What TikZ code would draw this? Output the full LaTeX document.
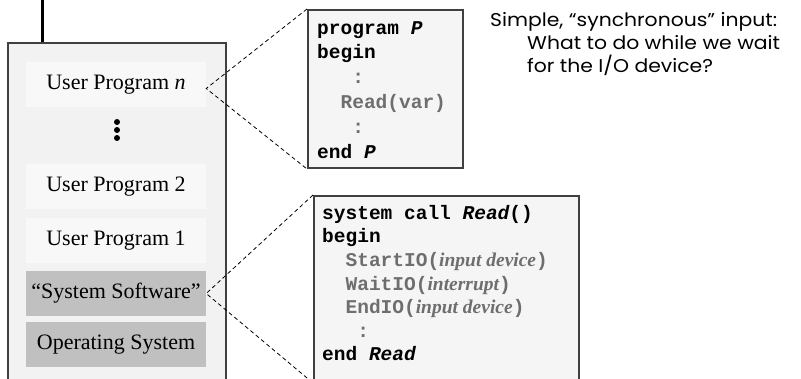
\documentclass[tikz,border=0pt]{standalone}
\usepackage{fontspec}
\setmainfont{Liberation Serif}
\setmonofont{Liberation Mono}
\newfontfamily\notefont[FakeStretch=1.1]{Poppins}

\definecolor{panelgray}{HTML}{F2F2F2}
\definecolor{layerlight}{HTML}{F8F8F8}
\definecolor{layergray}{HTML}{C0C0C0}
\definecolor{framegray}{HTML}{404040}
\definecolor{codefill}{HTML}{F5F5F5}
\definecolor{codegray}{HTML}{6E6E6E}

\newcommand{\callop}[1]{\textcolor{codegray}{#1}}
\newcommand{\callarg}[1]{{\rmfamily\bfseries\itshape #1}}

\begin{document}
\begin{tikzpicture}[
  x=1pt, y=-1pt,
  panel/.style={rectangle, draw=framegray, line width=1.5pt, fill=panelgray, minimum width=218pt, minimum height=342pt, inner sep=0pt},
  layer/.style={rectangle, fill=layerlight, minimum width=180pt, minimum height=45pt, inner sep=0pt, font=\fontsize{22}{26}\selectfont},
  syslayer/.style={layer, fill=layergray},
  codebox/.style={rectangle, draw=framegray, line width=2pt, fill=codefill, inner sep=0pt, anchor=north west},
  code/.style={anchor=north west, align=left, inner sep=0pt, font=\fontsize{19.5}{24.8}\selectfont\ttfamily\bfseries},
  zoomline/.style={dashed, line width=0.8pt, dash pattern=on 4pt off 3pt}
]
\useasboundingbox (0,0) rectangle (801,379);
\clip (0,0) rectangle (801,379);

% Machine stack
\node[panel] (machine) at (117,214) {};
\coordinate (wire) at (42,0);
\draw[line width=3pt] (wire) -- (wire |- machine.north);

\node[layer] (upn) at (116,84.5) {User Program \textit{n}};
\foreach \y in {122,130,138}
  \fill (117,\y) circle (3pt);
\node[layer] (up2) at (116,187) {User Program 2};
\node[layer] (up1) at (116,241) {User Program 1};
\node[syslayer] (sys) at (116,293.5) {``System Software''};
\node[syslayer] (os) at (116,345) {Operating System};

% Program P
\node[codebox, minimum width=155pt, minimum height=158pt] (progbox) at (307,9) {};
\node[code] (progtext) at ([shift={(10pt,-12pt)}]progbox.north west)
  {program {\itshape P}\\
   begin\\
   \callop{\hphantom{abc}:}\\
   \callop{\hphantom{ab}Read(var)}\\
   \callop{\hphantom{abc}:}\\
   end {\itshape P}};

% System call
\node[codebox, minimum width=265pt, minimum height=186pt] (callbox) at (313,195) {};
\node[code, font=\fontsize{19.5}{23.6}\selectfont\ttfamily\bfseries] (calltext) at ([shift={(9pt,-10pt)}]callbox.north west)
  {system call {\itshape Read}()\\
   begin\\
   \callop{\hphantom{ab}StartIO(\callarg{input device})}\\
   \callop{\hphantom{ab}WaitIO(\callarg{interrupt})}\\
   \callop{\hphantom{ab}EndIO(\callarg{input device})}\\
   \callop{\hphantom{abc}:}\\
   end {\itshape Read}};

% Zoom lines
\coordinate (upntip) at ([yshift=-4pt]upn.east);
\draw[zoomline] (progbox.north west) -- (upntip) -- (progbox.south west);
\draw[zoomline] (callbox.north west) -- (sys.east) -- (callbox.south west);

% Note
\node[anchor=north west, align=left, inner sep=0pt, font=\notefont\fontsize{18.5}{23}\selectfont] (note) at (490,12)
  {Simple, “synchronous” input:\\
   \hspace*{37pt}What to do while we wait\\
   \hspace*{37pt}for the I/O device?};
\end{tikzpicture}
\end{document}
